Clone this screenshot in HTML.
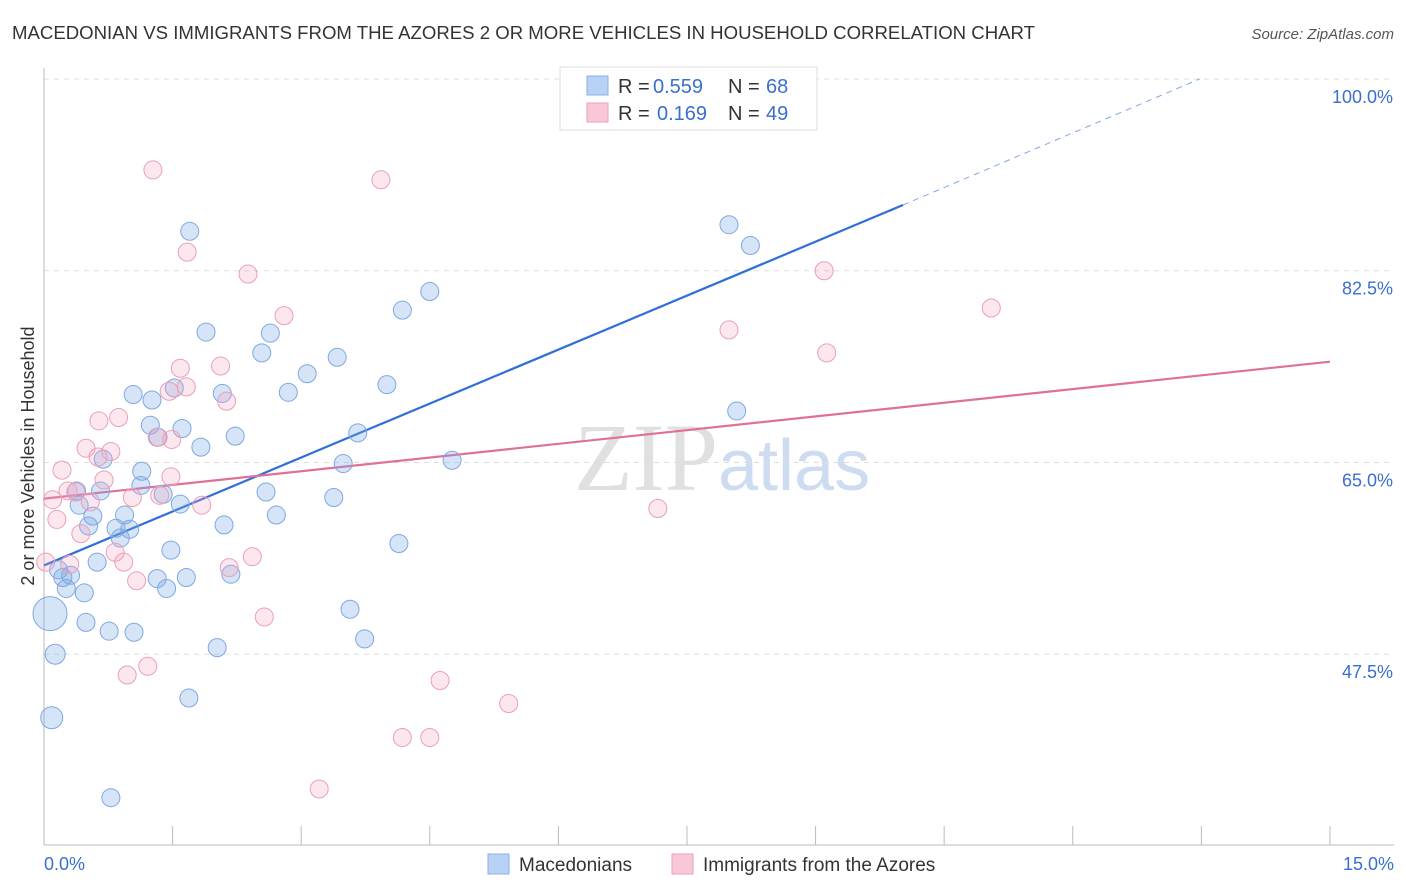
<!DOCTYPE html>
<html><head><meta charset="utf-8"><style>
body{margin:0;background:#fff;font-family:"Liberation Sans",sans-serif}
svg{display:block}
</style></head><body>
<svg id="chart" width="1406" height="892" xmlns="http://www.w3.org/2000/svg">
<text x="12" y="39" font-size="18" fill="#333" textLength="1023" lengthAdjust="spacingAndGlyphs">MACEDONIAN VS IMMIGRANTS FROM THE AZORES 2 OR MORE VEHICLES IN HOUSEHOLD CORRELATION CHART</text>
<text x="1394" y="39" font-size="15" fill="#555" text-anchor="end" font-style="italic">Source: ZipAtlas.com</text>
<text x="718" y="490" font-size="96" fill="#e0e0e0" text-anchor="end" font-family="Liberation Serif">ZIP</text>
<text x="718" y="490" font-size="72" fill="#cddcf0">atlas</text>
<g id="grid"></g><g id="axes"></g><g id="lines"></g><g id="points"></g>
<text transform="translate(34,456) rotate(-90)" font-size="18" fill="#333" text-anchor="middle">2 or more Vehicles in Household</text>
<g font-size="20">
<rect x="560" y="67" width="257" height="63" fill="#fff" stroke="#ddd"/>
<rect x="587" y="76" width="21" height="19" fill="#b8d2f5" stroke="#8ab0e6"/>
<rect x="587" y="103" width="21" height="19" fill="#f9c8d6" stroke="#eb9fb7"/>
<text x="618" y="93" fill="#333">R =</text><text x="653" y="93" fill="#3a6fd0">0.559</text>
<text x="728" y="93" fill="#333">N =</text><text x="766" y="93" fill="#3a6fd0">68</text>
<text x="618" y="120" fill="#333">R =</text><text x="657" y="120" fill="#3a6fd0">0.169</text>
<text x="728" y="120" fill="#333">N =</text><text x="766" y="120" fill="#3a6fd0">49</text>
</g>
<g>
<rect x="488" y="854" width="21" height="20" fill="#b8d2f5" stroke="#8ab0e6"/>
<text x="519" y="871" font-size="19" fill="#333">Macedonians</text>
<rect x="672" y="854" width="21" height="20" fill="#f9c8d6" stroke="#eb9fb7"/>
<text x="703" y="871" font-size="19" fill="#333">Immigrants from the Azores</text>
</g>
</svg>
<script>
const yTicks=[100,82.5,65,47.5];
const yTickLabels=["100.0%","82.5%","65.0%","47.5%"];
const blueX=[1.70,7.99,8.24,4.50,4.18,1.89,2.64,2.54,3.42,3.07,4.00,1.04,1.52,2.08,1.26,2.85,8.08,1.24,1.61,3.66,2.23,1.83,1.33,0.69,4.76,3.49,1.14,1.13,0.66,2.59,1.39,0.38,3.38,1.59,0.41,0.57,0.94,2.10,2.71,0.52,0.84,1.00,0.89,4.14,1.48,0.62,0.17,0.31,0.22,1.32,1.66,2.18,0.26,1.43,0.47,3.57,0.49,0.76,1.05,3.74,2.02,0.13,0.07,0.09,1.69,0.78];
const blueY=[86.1,86.7,84.8,80.6,78.9,76.9,76.8,75.0,74.6,73.1,72.1,71.2,71.8,71.3,70.7,71.4,69.7,68.4,68.1,67.7,67.4,66.4,67.3,65.3,65.2,64.9,64.2,62.9,62.4,62.3,62.1,62.4,61.8,61.2,61.1,60.1,60.2,59.3,60.2,59.2,59.0,58.9,58.1,57.6,57.0,55.9,55.2,54.7,54.5,54.4,54.5,54.8,53.5,53.5,53.1,51.6,50.4,49.6,49.5,48.9,48.1,47.5,51.2,41.7,43.5,34.4];
const blueR=blueX.map((_,i)=>i==62?17:(i==63?11:(i==61?10:9)));
const pinkX=[1.27,3.93,1.67,2.38,9.10,11.05,2.80,7.99,9.13,1.59,2.06,1.46,1.66,2.13,0.64,0.87,1.32,1.49,0.49,0.78,0.63,0.21,1.48,0.70,0.28,0.37,0.10,0.54,1.35,1.03,1.84,7.16,0.15,0.43,0.83,0.93,0.30,0.02,2.43,2.16,1.08,2.57,1.21,0.97,4.62,5.42,4.18,4.50,3.21];
const pinkY=[91.7,90.8,84.2,82.2,82.5,79.1,78.4,77.1,75.0,73.6,73.8,71.5,71.9,70.6,68.8,69.1,67.3,67.1,66.3,66.0,65.5,64.3,63.7,63.4,62.4,62.3,61.6,61.4,62.0,61.8,61.1,60.8,59.8,58.5,56.8,55.9,55.7,55.9,56.4,55.4,54.2,50.9,46.4,45.6,45.1,43.0,39.9,39.9,35.2];
const blueLine=[[0,55.6],[10.02,88.5]];
const blueDash=[[10.02,88.5],[13.48,100]];
const pinkLine=[[0,61.7],[15,74.2]];
const NS="http://www.w3.org/2000/svg";
const sx=v=>44+v*85.73, sy=v=>79+(100-v)*10.956;
function mk(p,t,a){const e=document.createElementNS(NS,t);for(const k in a)e.setAttribute(k,a[k]);document.getElementById(p).appendChild(e);return e;}
yTicks.forEach((t,i)=>{
 let l=mk('grid','line',{x1:44,x2:1394,y1:sy(t),y2:sy(t),stroke:'#ddd','stroke-dasharray':'5,5'});
 
 
 let tx=mk('axes','text',{x:1393,y:sy(t)+24,'font-size':18,fill:'#3a6fd0','text-anchor':'end'});
 tx.textContent=yTickLabels[i];
 
 
});
let ax=mk('axes','line',{x1:44,x2:1394,y1:845,y2:845,stroke:'#bbb'});


let ay=mk('axes','line',{x1:44,x2:44,y1:68,y2:845,stroke:'#bbb'});


for(let i=0;i<=10;i++){let t=mk('axes','line',{x1:sx(i*1.5),x2:sx(i*1.5),y1:826,y2:845,stroke:'#bbb'});
 
 }
[["0.0%",44,'start'],["15.0%",1394,'end']].forEach(d=>{let t=mk('axes','text',{x:d[1],y:870,'font-size':18,fill:'#3a6fd0','text-anchor':d[2]});t.textContent=d[0];
 
 });
for(let i=0;i<blueX.length;i++){let c=mk('points','circle',{cx:sx(blueX[i]),cy:sy(blueY[i]),r:blueR[i],fill:'rgba(120,165,230,0.3)',stroke:'#7fa8e0','stroke-width':1});
 
 }
for(let i=0;i<pinkX.length;i++){let c=mk('points','circle',{cx:sx(pinkX[i]),cy:sy(pinkY[i]),r:9,fill:'rgba(245,160,190,0.25)',stroke:'#eb9fb7','stroke-width':1});
 
 }
let bl=mk('lines','line',{x1:sx(blueLine[0][0]),y1:sy(blueLine[0][1]),x2:sx(blueLine[1][0]),y2:sy(blueLine[1][1]),stroke:'#2f6fd6','stroke-width':2.2});


let bd=mk('lines','line',{x1:sx(blueDash[0][0]),y1:sy(blueDash[0][1]),x2:sx(blueDash[1][0]),y2:sy(blueDash[1][1]),stroke:'#7fa8e0','stroke-width':1,'stroke-dasharray':'6,5'});


let pl=mk('lines','line',{x1:sx(pinkLine[0][0]),y1:sy(pinkLine[0][1]),x2:sx(pinkLine[1][0]),y2:sy(pinkLine[1][1]),stroke:'#e0709a','stroke-width':2.2});


</script>
</body></html>
